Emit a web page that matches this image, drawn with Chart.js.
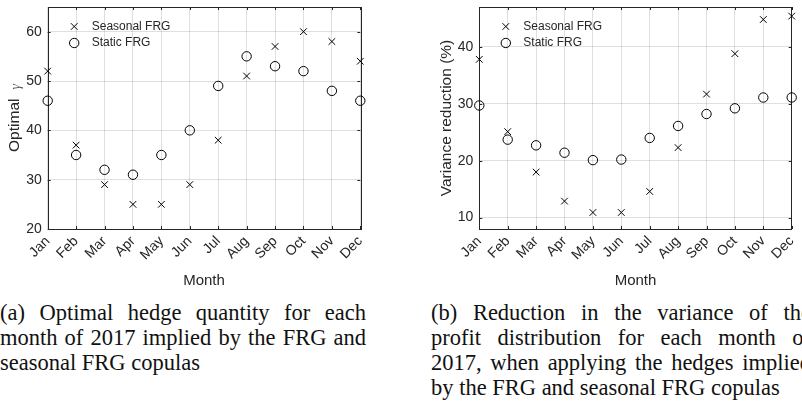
<!DOCTYPE html>
<html>
<head>
<meta charset="utf-8">
<script src="https://cdn.jsdelivr.net/npm/chart.js@4.4.1/dist/chart.umd.min.js"></script>
<style>
  body { margin: 0; background: #fff; width: 802px; height: 404px; overflow: hidden; position: relative; }
  canvas { position: absolute; top: 0; }
  #hedgeChart { left: 0; }
  #varChart { left: 400px; }
  .caption { position: absolute; top: 300px; font-family: "Liberation Serif", serif; font-size: 22.5px; line-height: 25px; color: #111; }
  .caption div { text-align: justify; text-align-last: justify; }
  .caption div.last { text-align-last: left; }
  #capA { left: 0; width: 366px; }
  #capB { left: 431px; width: 380px; }
</style>
</head>
<body>
<canvas id="hedgeChart" width="400" height="300"></canvas>
<canvas id="varChart" width="402" height="300"></canvas>

<div class="caption" id="capA">
  <div>(a) Optimal hedge quantity for each</div>
  <div>month of 2017 implied by the FRG and</div>
  <div class="last">seasonal FRG copulas</div>
</div>
<div class="caption" id="capB">
  <div>(b) Reduction in the variance of the</div>
  <div>profit distribution for each month of</div>
  <div>2017, when applying the hedges implied</div>
  <div class="last">by the FRG and seasonal FRG copulas</div>
</div>

<script>
const months = ['Jan', 'Feb', 'Mar', 'Apr', 'May', 'Jun', 'Jul', 'Aug', 'Sep', 'Oct', 'Nov', 'Dec'];

// optimal gamma per month
const hedgeSeasonal = [52, 37, 29, 25, 25, 29, 38, 51, 57, 60, 58, 54];
const hedgeStatic = [46, 35, 32, 31, 35, 40, 49, 55, 53, 52, 48, 46];

// variance reduction (%) per month
const varSeasonal = [37.8, 25.1, 18.0, 12.9, 10.9, 10.9, 14.6, 22.3, 31.7, 38.8, 44.8, 45.4];
const varStatic = [29.7, 23.7, 22.7, 21.4, 20.1, 20.2, 24.0, 26.1, 28.2, 29.2, 31.1, 31.1];

const hedgeRange = [20, 65];
const varRange = [8, 47];

const ink = '#262626';
const sans = '"Liberation Sans", Arial, sans-serif';

// axes box with short inward ticks on all four sides
const boxPlugin = {
    id: 'box',
    beforeDatasetsDraw(chart) {
        const { ctx, chartArea: a, scales } = chart;
        const len = 3;
        ctx.save();
        ctx.strokeStyle = ink;
        ctx.lineWidth = 1;
        ctx.beginPath();
        scales.x.ticks.forEach((t, i) => {
            const px = Math.round(scales.x.getPixelForTick(i)) + 0.5;
            ctx.moveTo(px, a.bottom); ctx.lineTo(px, a.bottom - len);
            ctx.moveTo(px, a.top); ctx.lineTo(px, a.top + len);
        });
        scales.y.ticks.forEach(t => {
            const py = Math.round(scales.y.getPixelForValue(t.value)) + 0.5;
            ctx.moveTo(a.left, py); ctx.lineTo(a.left + len, py);
            ctx.moveTo(a.right, py); ctx.lineTo(a.right - len, py);
        });
        ctx.stroke();
        ctx.strokeRect(Math.round(a.left) + 0.5, Math.round(a.top) + 0.5,
            Math.round(a.right - a.left), Math.round(a.bottom - a.top));
        ctx.restore();
    }
};

// legend drawn inside the top-left corner of the plot
const innerLegend = {
    id: 'innerLegend',
    afterDatasetsDraw(chart) {
        const { ctx, chartArea: a } = chart;
        ctx.save();
        ctx.font = '12px ' + sans;
        ctx.textBaseline = 'middle';
        chart.data.datasets.forEach((ds, i) => {
            const mx = a.left + 26.5;
            const my = a.top + 19.5 + i * 16.5;
            ctx.strokeStyle = '#000';
            ctx.lineWidth = 1;
            ctx.beginPath();
            if (ds.pointStyle === 'circle') {
                ctx.arc(mx, my, 4.7, 0, Math.PI * 2);
            } else {
                const d = 4.7 * Math.SQRT1_2;
                ctx.moveTo(mx - d, my - d); ctx.lineTo(mx + d, my + d);
                ctx.moveTo(mx + d, my - d); ctx.lineTo(mx - d, my + d);
            }
            ctx.stroke();
            ctx.fillStyle = ink;
            ctx.fillText(ds.label, a.left + 44, my);
        });
        ctx.restore();
    }
};

// rotated y axis title, with an optional italic symbol after it
const yTitle = {
    id: 'yTitle',
    afterDraw(chart, args, opts) {
        const { ctx, chartArea: a } = chart;
        const symFont = 'italic 14px "Liberation Serif", serif';
        const gap = 9;
        ctx.save();
        ctx.translate(a.left - opts.gap, (a.top + a.bottom) / 2);
        ctx.rotate(-Math.PI / 2);
        ctx.textBaseline = 'middle';
        ctx.textAlign = 'left';
        ctx.fillStyle = ink;
        ctx.font = '15.5px ' + sans;
        const w1 = ctx.measureText(opts.text).width;
        let w2 = 0;
        if (opts.symbol) {
            ctx.font = symFont;
            w2 = ctx.measureText(opts.symbol).width + gap;
        }
        const x0 = -(w1 + w2) / 2;
        ctx.font = '15.5px ' + sans;
        ctx.fillText(opts.text, x0, 0);
        if (opts.symbol) {
            ctx.font = symFont;
            ctx.fillStyle = '#555';
            ctx.fillText(opts.symbol, x0 + w1 + gap, 2);
        }
        ctx.restore();
    }
};

function makeChart(id, seasonal, stat, range, title, symbol, leftPad, yWidth, rightPad) {
    const ctx = document.getElementById(id).getContext('2d');
    return new Chart(ctx, {
        type: 'line',
        data: {
            labels: months,
            datasets: [{
                label: 'Seasonal FRG',
                data: seasonal,
                showLine: false,
                pointStyle: 'crossRot',
                pointRadius: 4.7,
                pointHoverRadius: 4.7,
                pointBorderColor: '#000',
                pointBackgroundColor: 'transparent',
                pointBorderWidth: 1,
                clip: false
            }, {
                label: 'Static FRG',
                data: stat,
                showLine: false,
                pointStyle: 'circle',
                pointRadius: 4.7,
                pointHoverRadius: 4.7,
                pointBorderColor: '#000',
                pointBackgroundColor: 'transparent',
                pointBorderWidth: 1,
                clip: false
            }]
        },
        options: {
            responsive: false,
            animation: false,
            events: [],
            layout: { padding: { left: leftPad, right: rightPad, top: 7, bottom: 0 } },
            scales: {
                x: {
                    offset: false,
                    grid: { color: 'rgba(38,38,38,0.15)', drawTicks: false },
                    border: { display: false },
                    ticks: {
                        color: ink,
                        font: { family: sans, size: 14 },
                        minRotation: 45,
                        maxRotation: 45,
                        padding: 4
                    },
                    title: {
                        display: true,
                        text: 'Month',
                        color: ink,
                        font: { family: sans, size: 15 },
                        padding: { top: 0, bottom: 10 }
                    },
                    afterFit(scale) {
                        scale.height = 71;
                        scale.paddingLeft = 0;
                        scale.paddingRight = 0;
                    }
                },
                y: {
                    min: range[0],
                    max: range[1],
                    grid: { color: 'rgba(38,38,38,0.15)', drawTicks: false },
                    border: { display: false },
                    ticks: {
                        stepSize: 10,
                        includeBounds: false,
                        color: ink,
                        font: { family: sans, size: 14 },
                        padding: 6
                    },
                    afterFit(scale) {
                        scale.width = yWidth;
                        scale.paddingTop = 0;
                        scale.paddingBottom = 0;
                    }
                }
            },
            plugins: {
                legend: { display: false },
                tooltip: { enabled: false },
                yTitle: { text: title, symbol: symbol, gap: 33 }
            }
        },
        plugins: [boxPlugin, innerLegend, yTitle]
    });
}

makeChart('hedgeChart', hedgeSeasonal, hedgeStatic, hedgeRange, 'Optimal', '\u03b3', 0, 47.7, 39.7);
makeChart('varChart', varSeasonal, varStatic, varRange, 'Variance reduction (%)', null, 33, 46.3, 10.3);
</script>
</body>
</html>
